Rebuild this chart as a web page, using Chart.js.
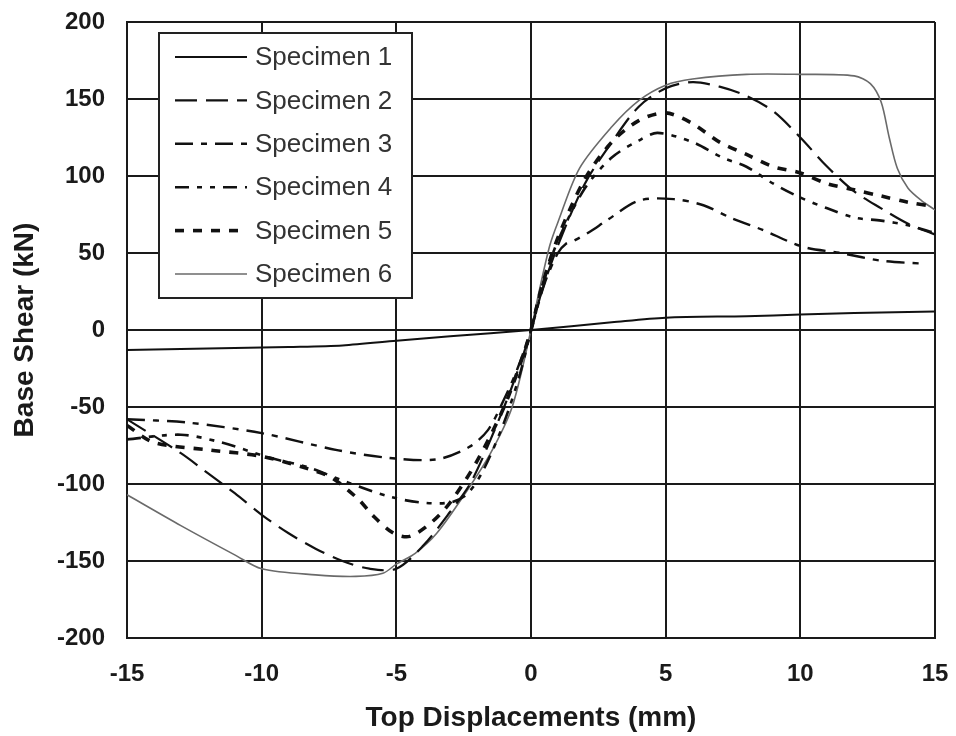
<!DOCTYPE html>
<html>
<head>
<meta charset="utf-8">
<style>
  html, body { margin: 0; padding: 0; background: #fff; }
  #wrap { width: 956px; height: 736px; }
</style>
</head>
<body>
<div id="wrap"><canvas id="shearChart"></canvas></div>

<script src="https://cdn.jsdelivr.net/npm/chart.js"></script>
<script>

// top displacement (mm) / base shear (kN)
const spec1X = [-15, -12, -9, -7, -5, -3, 0, 3, 5, 8, 10, 12, 15];
const spec1Y = [-13, -12, -11, -10, -7, -4, 0, 5, 8, 9, 10, 11, 12];

const spec2X = [-15, -13, -12, -11, -10, -9, -8, -7, -6, -5, -4, -3, -2.2, -1, -0.4, 0,
                0.4, 1, 2, 3, 4, 5, 6, 7, 8, 9, 10, 11, 12, 13, 14, 15];
const spec2Y = [-58, -80, -93, -106, -120, -132, -142, -150, -155, -155, -140, -118, -98, -50, -22, 0,
                25, 55, 95, 122, 145, 157, 161, 158, 152, 142, 125, 106, 90, 79, 69, 62];

const spec3X = [-15, -12.8, -10, -7.2, -5.3, -3.5, -2.3, -1.6, -1, -0.5, 0,
                0.5, 1, 1.3, 1.6, 2.2, 2.8, 4, 5.3, 6.4, 7.4, 8.6, 10.1, 11.5, 13, 14.6];
const spec3Y = [-58, -60, -67, -78, -83, -84, -76, -65, -45, -25, 0,
                30, 50, 56, 58, 64, 71, 84, 85, 81, 73, 65, 54, 50, 45, 43];

const spec4X = [-15, -13, -11.5, -9.7, -8.3, -6.8, -5.3, -4.1, -3, -2.4, -1.8, -1, -0.4, 0,
                0.4, 1, 2, 3, 4, 4.7, 6, 7.1, 8, 9, 10, 11, 12, 13, 14, 15];
const spec4Y = [-71, -68, -73, -83, -89, -99, -108, -112, -112, -107, -92, -60, -28, 0,
                28, 58, 92, 112, 123, 128, 122, 112, 106, 95, 86, 79, 73, 71, 68, 63];

const spec5X = [-15, -14, -11.9, -10, -8.3, -7.4, -6.4, -5.9, -5.1, -4.5, -3.7, -3, -2, -1, -0.4, 0,
                0.4, 1, 2, 3, 4, 5, 6, 7, 8, 9, 10, 11, 12, 13, 14, 15];
const spec5Y = [-62, -73, -78, -82, -90, -96, -110, -120, -132, -134, -125, -112, -85, -50, -22, 0,
                28, 60, 98, 122, 136, 141, 134, 122, 114, 106, 102, 95, 91, 87, 83, 80];

const spec6X = [-15, -13, -11, -10, -8, -6.5, -5.5, -5, -4.3, -3.5, -2.4, -1.5, -0.7, 0,
                0.3, 0.7, 1, 1.8, 3, 4, 5, 6, 8, 10, 12, 12.6, 13, 13.3, 13.6, 14, 14.5, 15];
const spec6Y = [-107, -127, -146, -155, -159, -160, -158, -152, -145, -132, -105, -80, -50, 0,
                25, 55, 70, 105, 132, 149, 159, 163, 166, 166, 165, 160, 148, 125, 105, 92, 84, 78];

const xTicks = [-15, -10, -5, 0, 5, 10, 15];
const yTicks = [-200, -150, -100, -50, 0, 50, 100, 150, 200];

function pts(xs, ys) {
    return xs.map((x, i) => ({ x: x, y: ys[i] }));
}

const datasets = [
    { label: 'Specimen 1', data: pts(spec1X, spec1Y), borderColor: '#111', borderWidth: 2 },
    { label: 'Specimen 2', data: pts(spec2X, spec2Y), borderColor: '#111', borderWidth: 2.2, borderDash: [22, 9] },
    { label: 'Specimen 3', data: pts(spec3X, spec3Y), borderColor: '#111', borderWidth: 2.4, borderDash: [18, 8, 6, 8] },
    { label: 'Specimen 4', data: pts(spec4X, spec4Y), borderColor: '#111', borderWidth: 2.6, borderDash: [14, 8, 5, 8, 5, 8] },
    { label: 'Specimen 5', data: pts(spec5X, spec5Y), borderColor: '#111', borderWidth: 3.6, borderDash: [9, 9] },
    { label: 'Specimen 6', data: pts(spec6X, spec6Y), borderColor: '#6a6a6a', borderWidth: 1.6 }
];

// legend box sitting inside the plot, top-left
const boxLegend = {
    id: 'boxLegend',
    afterDatasetsDraw(chart) {
        const ctx = chart.ctx;
        const area = chart.chartArea;
        const left = area.left + 32;
        const top = area.top + 11;
        const w = 253;
        const h = 265;

        ctx.save();
        ctx.fillStyle = '#fff';
        ctx.fillRect(left, top, w, h);
        ctx.lineWidth = 2;
        ctx.strokeStyle = '#222';
        ctx.strokeRect(left, top, w, h);

        ctx.font = '26px "Liberation Sans", Arial, sans-serif';
        ctx.textBaseline = 'middle';
        ctx.textAlign = 'left';

        chart.data.datasets.forEach((ds, i) => {
            const cy = top + 24 + i * 43.4;
            ctx.beginPath();
            ctx.setLineDash(ds.borderDash || []);
            ctx.lineWidth = ds.borderWidth;
            ctx.strokeStyle = ds.borderColor;
            ctx.moveTo(left + 16, cy);
            ctx.lineTo(left + 88, cy);
            ctx.stroke();
            ctx.setLineDash([]);
            ctx.fillStyle = '#333';
            ctx.fillText(ds.label, left + 96, cy + 1);
        });
        ctx.restore();
    }
};

new Chart(document.getElementById('shearChart'), {

    type: 'line',

    data: { datasets: datasets },

    options: {
        responsive: true,
        maintainAspectRatio: false,
        animation: false,
        events: [],

        layout: {
            padding: { top: 22, right: 21, bottom: 0, left: 0 }
        },

        elements: {
            point: { radius: 0 },
            line: { tension: 0.3, fill: false }
        },

        plugins: {
            legend: { display: false },
            tooltip: { enabled: false }
        },

        scales: {

            x: {
                type: 'linear',
                min: -15,
                max: 15,
                afterBuildTicks: scale => { scale.ticks = xTicks.map(v => ({ value: v })); },
                afterFit: scale => {
                    scale.height = 98;
                    scale.paddingLeft = 0;
                    scale.paddingRight = 0;
                },
                grid: { color: '#1a1a1a', lineWidth: 2, drawTicks: false },
                border: { color: '#1a1a1a', width: 2 },
                ticks: {
                    padding: 22,
                    color: '#1a1a1a',
                    font: { family: '"Liberation Sans", Arial, sans-serif', size: 24, weight: 'bold' }
                },
                title: {
                    display: true,
                    text: 'Top Displacements (mm)',
                    color: '#1a1a1a',
                    padding: { top: 0, bottom: 1 },
                    font: { family: '"Liberation Sans", Arial, sans-serif', size: 28, weight: 'bold' }
                }
            },

            y: {
                type: 'linear',
                min: -200,
                max: 200,
                afterBuildTicks: scale => { scale.ticks = yTicks.map(v => ({ value: v })); },
                afterFit: scale => {
                    scale.width = 127;
                    scale.paddingTop = 0;
                    scale.paddingBottom = 0;
                },
                grid: { color: '#1a1a1a', lineWidth: 2, drawTicks: false },
                border: { color: '#1a1a1a', width: 2 },
                ticks: {
                    padding: 22,
                    color: '#1a1a1a',
                    font: { family: '"Liberation Sans", Arial, sans-serif', size: 24, weight: 'bold' }
                },
                title: {
                    display: true,
                    text: 'Base Shear (kN)',
                    color: '#1a1a1a',
                    padding: { top: 8, bottom: 0 },
                    font: { family: '"Liberation Sans", Arial, sans-serif', size: 28, weight: 'bold' }
                }
            }

        }
    },

    plugins: [boxLegend]

});

</script>
</body>
</html>
